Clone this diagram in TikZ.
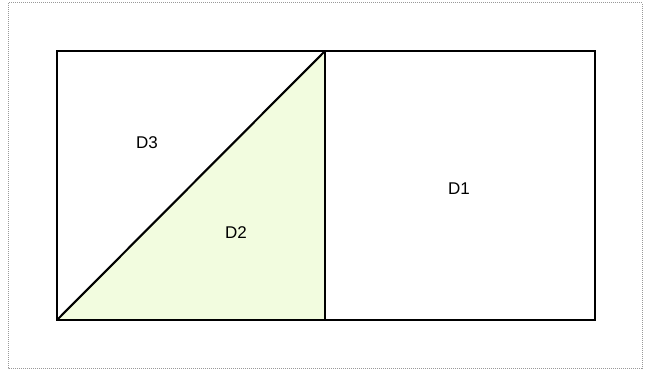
\documentclass[tikz,border=0pt]{standalone}
\usepackage{fontspec}
\setmainfont{Liberation Sans}
\usepackage{xcolor}
\usepackage{tikz}
\usetikzlibrary{positioning, calc}
\definecolor{regionfill}{HTML}{F2FCDF}

\begin{document}
\begin{tikzpicture}[x=1pt, y=-1pt, line join=miter,
    edge/.style={draw=black, line width=2.1pt},
    lbl/.style={font=\fontsize{17}{20}\selectfont, inner sep=0pt}]
    \useasboundingbox (0,0) rectangle (645,371);
    \draw[gray!80, line width=1pt, densely dotted] (8,3) rectangle (642,368);
    % corners of the square pair
    \coordinate (bl) at (57,320);
    \coordinate (tl) at (57,51);
    \coordinate (tm) at (325,51);
    \coordinate (bm) at (325,320);
    \coordinate (tr) at (595,51);
    \coordinate (br) at (595,320);
    \fill[regionfill] (bl) -- (tm) -- (bm) -- cycle;
    \draw[edge] (bl) rectangle (tr);
    \draw[edge] (tm) -- (bm);
    \draw[edge] (bl) -- (tm);
    \node[lbl] (d3) at (147,143) {D3};
    \node[lbl] (d2) at (236,233) {D2};
    \node[lbl] (d1) at (459,189) {D1};
\end{tikzpicture}
\end{document}
